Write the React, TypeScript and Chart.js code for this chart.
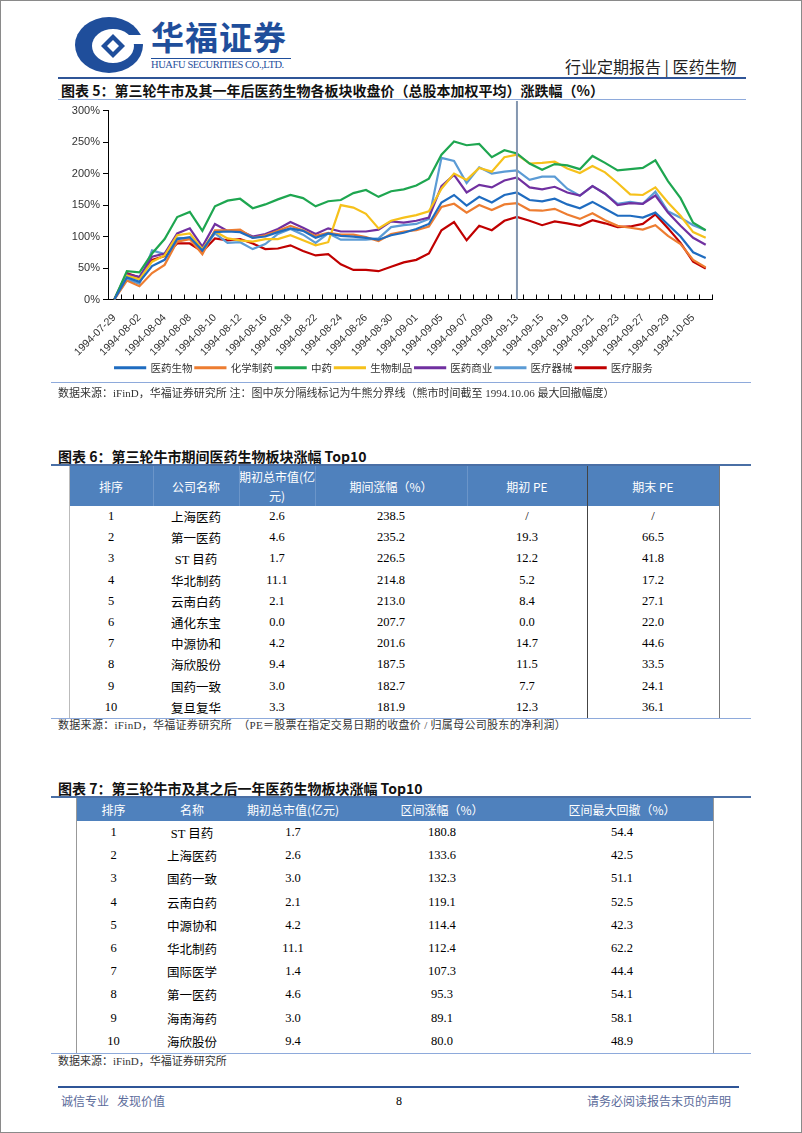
import React, { useEffect, useRef } from 'react';
import { Chart, registerables } from 'chart.js';

Chart.register(...registerables);

// ---------- Chart data ----------
const dates = [
  '1994-07-29', '1994-08-01', '1994-08-02', '1994-08-03', '1994-08-04', '1994-08-05',
  '1994-08-08', '1994-08-09', '1994-08-10', '1994-08-11', '1994-08-12', '1994-08-15',
  '1994-08-16', '1994-08-17', '1994-08-18', '1994-08-19', '1994-08-22', '1994-08-23',
  '1994-08-24', '1994-08-25', '1994-08-26', '1994-08-29', '1994-08-30', '1994-08-31',
  '1994-09-01', '1994-09-02', '1994-09-05', '1994-09-06', '1994-09-07', '1994-09-08',
  '1994-09-09', '1994-09-12', '1994-09-13', '1994-09-14', '1994-09-15', '1994-09-16',
  '1994-09-19', '1994-09-20', '1994-09-21', '1994-09-22', '1994-09-23', '1994-09-26',
  '1994-09-27', '1994-09-28', '1994-09-29', '1994-09-30', '1994-10-05', '1994-10-06',
];

const dividerDate = '1994-09-13';

const seriesNames = ['医药生物', '化学制药', '中药', '生物制品', '医药商业', '医疗器械', '医疗服务'];
const seriesColors = ['#1f6cc0', '#ed7d31', '#1ea650', '#f6c11b', '#7030a0', '#5b9bd5', '#c00000'];

const yiyaoShengwu = [0, 35, 28, 53, 63, 96, 99, 78, 107, 108, 107, 98, 100, 107, 113, 109, 98, 105, 101, 100, 98, 95, 102, 106, 112, 120, 154, 166, 149, 163, 154, 166, 170, 158, 156, 160, 151, 145, 155, 144, 133, 133, 130, 138, 119, 100, 75, 66];
const huaxueZhiyao = [0, 30, 21, 42, 55, 92, 96, 72, 110, 110, 111, 98, 102, 109, 117, 110, 101, 106, 103, 103, 99, 93, 104, 108, 110, 116, 147, 152, 138, 150, 142, 151, 153, 142, 141, 144, 135, 128, 137, 126, 117, 114, 111, 118, 101, 88, 63, 51];
const zhongyao = [0, 45, 43, 73, 96, 131, 139, 109, 148, 157, 160, 145, 151, 159, 166, 161, 148, 156, 158, 169, 174, 163, 172, 175, 181, 192, 230, 251, 245, 247, 226, 237, 232, 216, 206, 215, 213, 207, 228, 217, 205, 207, 209, 221, 188, 161, 122, 110];
const shengwuZhipin = [0, 38, 32, 60, 70, 102, 105, 80, 108, 97, 94, 92, 96, 96, 102, 94, 86, 91, 150, 146, 136, 113, 125, 130, 134, 140, 176, 200, 190, 209, 203, 226, 230, 216, 217, 219, 208, 201, 212, 202, 185, 167, 166, 178, 154, 133, 107, 98];
const yiyaoShangye = [0, 40, 36, 68, 73, 105, 113, 84, 120, 109, 109, 100, 104, 112, 123, 114, 104, 113, 108, 108, 108, 111, 124, 122, 125, 130, 180, 198, 170, 182, 178, 189, 194, 178, 175, 179, 170, 165, 180, 168, 150, 153, 152, 165, 138, 117, 98, 87];
const yiliaoQixie = [0, 32, 25, 78, 72, 98, 97, 78, 105, 90, 91, 80, 88, 104, 112, 103, 90, 105, 95, 95, 95, 97, 115, 118, 120, 128, 225, 220, 185, 210, 200, 203, 205, 190, 195, 195, 176, 165, 180, 168, 152, 155, 152, 171, 140, 130, 118, 110];
const yiliaoFuwu = [0, 42, 35, 63, 69, 89, 89, 76, 97, 94, 96, 89, 80, 81, 86, 77, 70, 72, 56, 47, 47, 45, 52, 59, 63, 73, 110, 123, 94, 117, 110, 125, 131, 125, 118, 124, 121, 117, 126, 121, 115, 116, 120, 135, 113, 90, 60, 49];

const seriesValues = [yiyaoShengwu, huaxueZhiyao, zhongyao, shengwuZhipin, yiyaoShangye, yiliaoQixie, yiliaoFuwu];

const yMin = 0;
const yMax = 300;
const yStep = 50;

// ---------- Table 6 data ----------
const t6Header = ['排序', '公司名称', '期初总市值(亿元)', '期间涨幅（%）', '期初 PE', '期末 PE'];
const t6Rank = ['1', '2', '3', '4', '5', '6', '7', '8', '9', '10'];
const t6Name = ['上海医药', '第一医药', 'ST 目药', '华北制药', '云南白药', '通化东宝', '中源协和', '海欣股份', '国药一致', '复旦复华'];
const t6Cap = ['2.6', '4.6', '1.7', '11.1', '2.1', '0.0', '4.2', '9.4', '3.0', '3.3'];
const t6Gain = ['238.5', '235.2', '226.5', '214.8', '213.0', '207.7', '201.6', '187.5', '182.7', '181.9'];
const t6PeStart = ['/', '19.3', '12.2', '5.2', '8.4', '0.0', '14.7', '11.5', '7.7', '12.3'];
const t6PeEnd = ['/', '66.5', '41.8', '17.2', '27.1', '22.0', '44.6', '33.5', '24.1', '36.1'];

// ---------- Table 7 data ----------
const t7Header = ['排序', '名称', '期初总市值(亿元)', '区间涨幅（%）', '区间最大回撤（%）'];
const t7Rank = ['1', '2', '3', '4', '5', '6', '7', '8', '9', '10'];
const t7Name = ['ST 目药', '上海医药', '国药一致', '云南白药', '中源协和', '华北制药', '国际医学', '第一医药', '海南海药', '海欣股份'];
const t7Cap = ['1.7', '2.6', '3.0', '2.1', '4.2', '11.1', '1.4', '4.6', '3.0', '9.4'];
const t7Gain = ['180.8', '133.6', '132.3', '119.1', '114.4', '112.4', '107.3', '95.3', '89.1', '80.0'];
const t7Drawdown = ['54.4', '42.5', '51.1', '52.5', '42.3', '62.2', '44.4', '54.1', '58.1', '48.9'];

const CJK = '"Noto Sans CJK SC", sans-serif';
const SERIF = '"Liberation Serif", "Noto Sans CJK SC", serif';
const BLUE = '#1f4e9b';
const HEAD_BLUE = '#4f81bd';

const axisDecor = {
  id: 'axisDecor',
  afterDatasetsDraw(chart: any) {
    const { ctx, chartArea, scales } = chart;
    const xs = scales.x;
    const n = dates.length;
    const step = (xs.right - xs.left) / n;
    ctx.save();
    ctx.strokeStyle = '#000';
    ctx.lineWidth = 1;
    for (let i = 0; i <= n; i++) {
      const px = Math.round(xs.left + step * i) + 0.5;
      ctx.beginPath();
      ctx.moveTo(px, chartArea.bottom);
      ctx.lineTo(px, chartArea.bottom - 5);
      ctx.stroke();
    }
    const dx = xs.getPixelForValue(dates.indexOf(dividerDate));
    ctx.strokeStyle = '#8497b0';
    ctx.lineWidth = 2;
    ctx.beginPath();
    ctx.moveTo(dx, chartArea.top - 10);
    ctx.lineTo(dx, chartArea.bottom);
    ctx.stroke();
    ctx.restore();
  },
};

function LineChart() {
  const ref = useRef<HTMLCanvasElement | null>(null);
  useEffect(() => {
    if (!ref.current) return;
    const chart = new Chart(ref.current, {
      type: 'line',
      data: {
        labels: dates,
        datasets: seriesNames.map((name, k) => ({
          label: name,
          data: seriesValues[k],
          borderColor: seriesColors[k],
          backgroundColor: seriesColors[k],
          borderWidth: 2.2,
          pointRadius: 0,
          tension: 0,
          fill: false,
        })),
      },
      options: {
        animation: false,
        responsive: false,
        maintainAspectRatio: false,
        layout: { padding: { top: 9, right: 24, left: 0, bottom: 0 } },
        plugins: {
          tooltip: { enabled: false },
          legend: {
            position: 'bottom',
            labels: {
              boxWidth: 30,
              boxHeight: 1,
              padding: 3,
              color: '#333',
              font: { size: 10.5, family: CJK },
            },
          },
        },
        scales: {
          x: {
            type: 'category',
            offset: true,
            grid: { display: false },
            border: { display: true, color: '#000', width: 1 },
            ticks: {
              autoSkip: false,
              maxRotation: 45,
              minRotation: 45,
              padding: 4,
              color: '#333',
              font: { size: 10.5, family: '"Liberation Sans", Arial, sans-serif' },
              callback: (_v: any, i: number) => (i % 2 === 0 ? dates[i] : ''),
            },
            afterFit: (s: any) => {
              s.height = 60;
            },
          },
          y: {
            min: yMin,
            max: yMax,
            grid: { drawOnChartArea: false, drawTicks: true, tickLength: 5, color: '#000' },
            border: { display: true, color: '#000', width: 1 },
            ticks: {
              stepSize: yStep,
              padding: 3,
              color: '#333',
              font: { size: 11, family: '"Liberation Sans", Arial, sans-serif' },
              callback: (v: any) => v + '%',
            },
            afterFit: (s: any) => {
              s.width = 52;
            },
          },
        },
      },
      plugins: [axisDecor],
    });
    return () => chart.destroy();
  }, []);
  return (
    <div style={{ position: 'absolute', left: 55, top: 100, width: 680, height: 282 }}>
      <canvas ref={ref} width={680} height={282} style={{ width: 680, height: 282 }} />
    </div>
  );
}

function T({ x, y, size = 12, children, style = {} }: any) {
  return (
    <div
      style={{
        position: 'absolute',
        left: x,
        top: y,
        fontSize: size,
        lineHeight: 1,
        whiteSpace: 'nowrap',
        fontFamily: SERIF,
        color: '#222',
        ...style,
      }}
    >
      {children}
    </div>
  );
}

function HLine({ x1, x2, y, h = 1, color = '#8eaadb' }: any) {
  return <div style={{ position: 'absolute', left: x1, top: y, width: x2 - x1, height: h, background: color }} />;
}

function VLine({ x, y1, y2, w = 1, color = '#666' }: any) {
  return <div style={{ position: 'absolute', left: x, top: y1, width: w, height: y2 - y1, background: color }} />;
}

function Cell({ left, right, top, height, children, style = {} }: any) {
  return (
    <div
      style={{
        position: 'absolute',
        left,
        top,
        width: right - left,
        height,
        display: 'flex',
        flexDirection: 'column',
        alignItems: 'center',
        justifyContent: 'center',
        textAlign: 'center',
        fontFamily: SERIF,
        fontSize: 12.5,
        color: '#000',
        whiteSpace: 'nowrap',
        ...style,
      }}
    >
      {children}
    </div>
  );
}

function Table6() {
  const b = [68, 152, 238, 314, 466, 586, 718];
  const headTop = 465;
  const headH = 40;
  const rowTop = 505;
  const rowH = 21.2;
  const cols = [t6Rank, t6Name, t6Cap, t6Gain, t6PeStart, t6PeEnd];
  return (
    <>
      <div style={{ position: 'absolute', left: b[0], top: headTop, width: b[6] - b[0], height: headH, background: HEAD_BLUE }} />
      {t6Header.map((h, i) => (
        <Cell
          key={'h' + i}
          left={b[i]}
          right={b[i + 1]}
          top={headTop}
          height={headH}
          style={{ color: '#fff', fontFamily: CJK, fontSize: 12, lineHeight: '19px' }}
        >
          {i === 2 ? (
            <>
              <span style={{ whiteSpace: 'nowrap' }}>{h.slice(0, 7)}</span>
              <span style={{ whiteSpace: 'nowrap' }}>{h.slice(7)}</span>
            </>
          ) : (
            h
          )}
        </Cell>
      ))}
      {[1, 2, 3, 4].map((i) => (
        <VLine key={'hs' + i} x={b[i]} y1={headTop} y2={headTop + headH} color="#6b95c9" />
      ))}
      {t6Rank.map((_, r) =>
        cols.map((c, i) => (
          <Cell key={r + '-' + i} left={b[i]} right={b[i + 1]} top={rowTop + r * rowH} height={rowH}>
            {c[r]}
          </Cell>
        ))
      )}
      <VLine x={b[5]} y1={headTop} y2={rowTop + 10 * rowH} color="#444" />
      <VLine x={b[6]} y1={headTop} y2={rowTop + 10 * rowH} color="#777" />
      <VLine x={b[0]} y1={headTop} y2={rowTop + 10 * rowH} color="#bbb" />
    </>
  );
}

function Table7() {
  const b = [75, 150, 232, 352, 530, 712];
  const headTop = 797;
  const headH = 23;
  const rowTop = 820;
  const rowH = 23.2;
  const cols = [t7Rank, t7Name, t7Cap, t7Gain, t7Drawdown];
  return (
    <>
      <div style={{ position: 'absolute', left: b[0], top: headTop, width: b[5] - b[0], height: headH, background: HEAD_BLUE }} />
      {t7Header.map((h, i) => (
        <Cell
          key={'h' + i}
          left={b[i]}
          right={b[i + 1]}
          top={headTop}
          height={headH}
          style={{ color: '#fff', fontFamily: CJK, fontSize: 12 }}
        >
          {h}
        </Cell>
      ))}
      {t7Rank.map((_, r) =>
        cols.map((c, i) => (
          <Cell key={r + '-' + i} left={b[i]} right={b[i + 1]} top={rowTop + r * rowH} height={rowH}>
            {c[r]}
          </Cell>
        ))
      )}
      <VLine x={b[0]} y1={headTop} y2={rowTop + 10 * rowH} color="#999" />
      <VLine x={b[5]} y1={headTop} y2={rowTop + 10 * rowH} color="#999" />
    </>
  );
}

function Logo() {
  return (
    <svg style={{ position: 'absolute', left: 72, top: 14 }} width={72} height={60} viewBox="0 0 72 60">
      <ellipse cx={36} cy={30} rx={34} ry={28} fill={BLUE} />
      <ellipse cx={40} cy={31} rx={21} ry={17} fill="#fff" />
      <path d="M40 19 L52 31 L40 43 L28 31 Z" fill={BLUE} />
      <path d="M40 25 L46 31 L40 37 L34 31 Z" fill="#fff" />
      <rect x={52} y={20} width={20} height={9} fill="#fff" />
    </svg>
  );
}

export default function App() {
  return (
    <div
      style={{
        position: 'absolute',
        left: 0,
        top: 0,
        width: 802,
        height: 1133,
        background: '#fff',
        boxSizing: 'border-box',
        border: '1px solid #8a8a8a',
        overflow: 'hidden',
      }}
    >
      <Logo />
      <T x={150} y={19} size={33} style={{ fontFamily: CJK, fontWeight: 700, color: BLUE, letterSpacing: 1 }}>
        华福证券
      </T>
      <HLine x1={150} x2={290} y={57} color={BLUE} />
      <T x={150} y={59} size={10.5} style={{ color: BLUE, letterSpacing: -0.4 }}>
        HUAFU SECURITIES CO.,LTD.
      </T>
      <T x={564} y={57} size={16} style={{ fontFamily: CJK, color: '#222' }}>
        行业定期报告&nbsp;|&nbsp;医药生物
      </T>
      <HLine x1={57} x2={745} y={76} h={2} color="#2f5597" />
      <T x={60} y={82} size={14} style={{ fontFamily: CJK, fontWeight: 700, color: '#111' }}>
        图表 5：第三轮牛市及其一年后医药生物各板块收盘价（总股本加权平均）涨跌幅（%）
      </T>
      <HLine x1={57} x2={745} y={98} color="#8eaadb" />

      <LineChart />

      <HLine x1={50} x2={750} y={381} color="#8eaadb" />
      <T x={57} y={387} size={11} style={{ color: '#333' }}>
        数据来源：iFinD，华福证券研究所 注：图中灰分隔线标记为牛熊分界线（熊市时间截至 1994.10.06 最大回撤幅度）
      </T>

      <T x={57} y={448} size={14} style={{ fontFamily: CJK, fontWeight: 700, color: '#111' }}>
        图表 6：第三轮牛市期间医药生物板块涨幅 Top10
      </T>
      <HLine x1={50} x2={750} y={463} h={1.5} color="#4a6fa5" />
      <Table6 />
      <HLine x1={50} x2={750} y={717} color="#8eaadb" />
      <T x={57} y={719} size={11} style={{ color: '#333', letterSpacing: 0.3 }}>
        数据来源：iFinD，华福证券研究所&nbsp;&nbsp;（PE＝股票在指定交易日期的收盘价 / 归属母公司股东的净利润）
      </T>

      <T x={57} y={780} size={14} style={{ fontFamily: CJK, fontWeight: 700, color: '#111' }}>
        图表 7：第三轮牛市及其之后一年医药生物板块涨幅 Top10
      </T>
      <HLine x1={50} x2={750} y={795} h={1.5} color="#4a6fa5" />
      <Table7 />
      <HLine x1={50} x2={750} y={1052} color="#8eaadb" />
      <T x={57} y={1055} size={11} style={{ color: '#333' }}>
        数据来源：iFinD，华福证券研究所
      </T>

      <HLine x1={57} x2={738} y={1085} h={1.5} color="#2f5597" />
      <T x={60} y={1094} size={12} style={{ fontFamily: CJK, color: '#5b6b9b' }}>
        诚信专业&nbsp;&nbsp;&nbsp;发现价值
      </T>
      <T x={395} y={1094} size={12} style={{ color: '#000' }}>
        8
      </T>
      <T x={586} y={1094} size={12} style={{ fontFamily: CJK, color: '#5b6b9b' }}>
        请务必阅读报告末页的声明
      </T>
    </div>
  );
}
